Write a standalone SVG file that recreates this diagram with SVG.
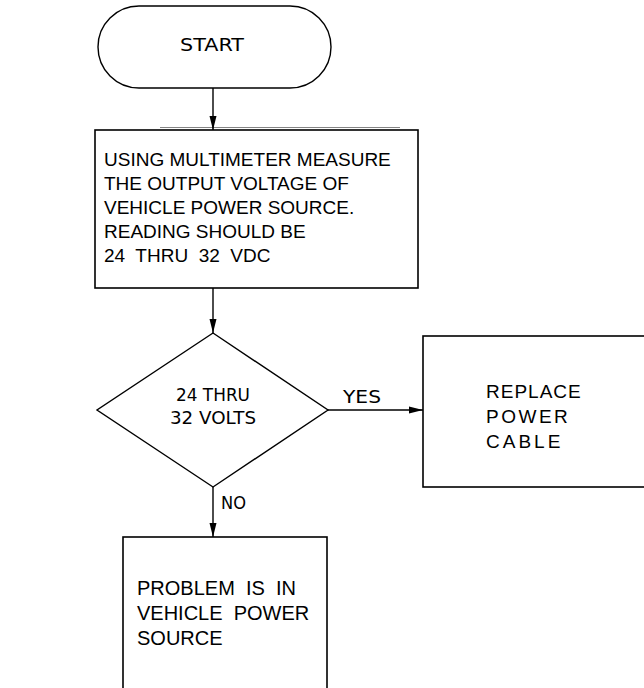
<svg xmlns="http://www.w3.org/2000/svg" width="644" height="688" viewBox="0 0 644 688">
  <defs>
    <marker id="arrow" markerWidth="14" markerHeight="8" refX="14" refY="4" orient="auto" markerUnits="userSpaceOnUse" viewBox="0 0 14 8">
      <path d="M0,0.5 L14,4 L0,7.5 z" fill="#000"/>
    </marker>
    <style>
      .shape { fill: #fff; stroke: #000; stroke-width: 1.4; }
      .box { fill: #fff; stroke: #000; stroke-width: 1.6; }
      .conn { fill: none; stroke: #000; stroke-width: 1.4; marker-end: url(#arrow); }
      .plot { font-family: "DejaVu Sans", "Liberation Sans", sans-serif; font-size: 17px; fill: #000; }
      .plot18 { font-size: 18px; }
      .body { font-family: "Liberation Sans", Arial, sans-serif; font-size: 19px; fill: #000; }
      .big { font-size: 20px; }
    </style>
  </defs>
  <rect width="644" height="688" fill="#fff"/>

  <g id="connectors">
    <line class="conn" x1="213" y1="88" x2="213" y2="130"/>
    <line class="conn" x1="213" y1="288" x2="213" y2="333"/>
    <line class="conn" x1="328" y1="410" x2="423" y2="410"/>
    <line class="conn" x1="213" y1="487" x2="213" y2="537"/>
  </g>

  <g id="start">
    <rect class="shape" x="98" y="6" width="233" height="82" rx="41" ry="41"/>
    <text class="plot plot18" x="212" y="51" text-anchor="middle" textLength="64" lengthAdjust="spacingAndGlyphs">START</text>
  </g>

  <g id="measure">
    <rect class="box" x="95" y="130" width="323" height="158"/>
    <line x1="160" y1="127.5" x2="400" y2="127.5" stroke="#000" stroke-width="0.8" opacity="0.6"/>
    <text class="body" x="104" y="166">USING MULTIMETER MEASURE</text>
    <text class="body" x="104" y="190">THE OUTPUT VOLTAGE OF</text>
    <text class="body" x="104" y="214">VEHICLE POWER SOURCE.</text>
    <text class="body" x="104" y="238">READING SHOULD BE</text>
    <text class="body" x="104" y="262" xml:space="preserve">24  THRU  32  VDC</text>
  </g>

  <g id="decision">
    <polygon class="shape" points="213,333 328,410 213,487 97,410"/>
    <text class="plot" x="213" y="401" text-anchor="middle" textLength="74" lengthAdjust="spacingAndGlyphs">24 THRU</text>
    <text class="plot" x="213" y="424" text-anchor="middle" textLength="86" lengthAdjust="spacingAndGlyphs">32 VOLTS</text>
  </g>

  <g id="label-yes">
    <text class="plot plot18" x="343" y="403" textLength="38" lengthAdjust="spacingAndGlyphs">YES</text>
  </g>
  <g id="label-no">
    <text class="plot" x="221" y="509" textLength="25" lengthAdjust="spacingAndGlyphs">NO</text>
  </g>

  <g id="replace">
    <rect class="box" x="423" y="336" width="230" height="151"/>
    <text class="body" x="486" y="398" letter-spacing="1">REPLACE</text>
    <text class="body" x="486" y="423" letter-spacing="2.5">POWER</text>
    <text class="body" x="486" y="448" letter-spacing="3">CABLE</text>
  </g>

  <g id="problem">
    <rect class="box" x="123" y="537" width="204" height="160"/>
    <text class="body big" x="137" y="595" xml:space="preserve">PROBLEM  IS  IN</text>
    <text class="body big" x="137" y="620" xml:space="preserve">VEHICLE  POWER</text>
    <text class="body big" x="137" y="645">SOURCE</text>
  </g>
</svg>
